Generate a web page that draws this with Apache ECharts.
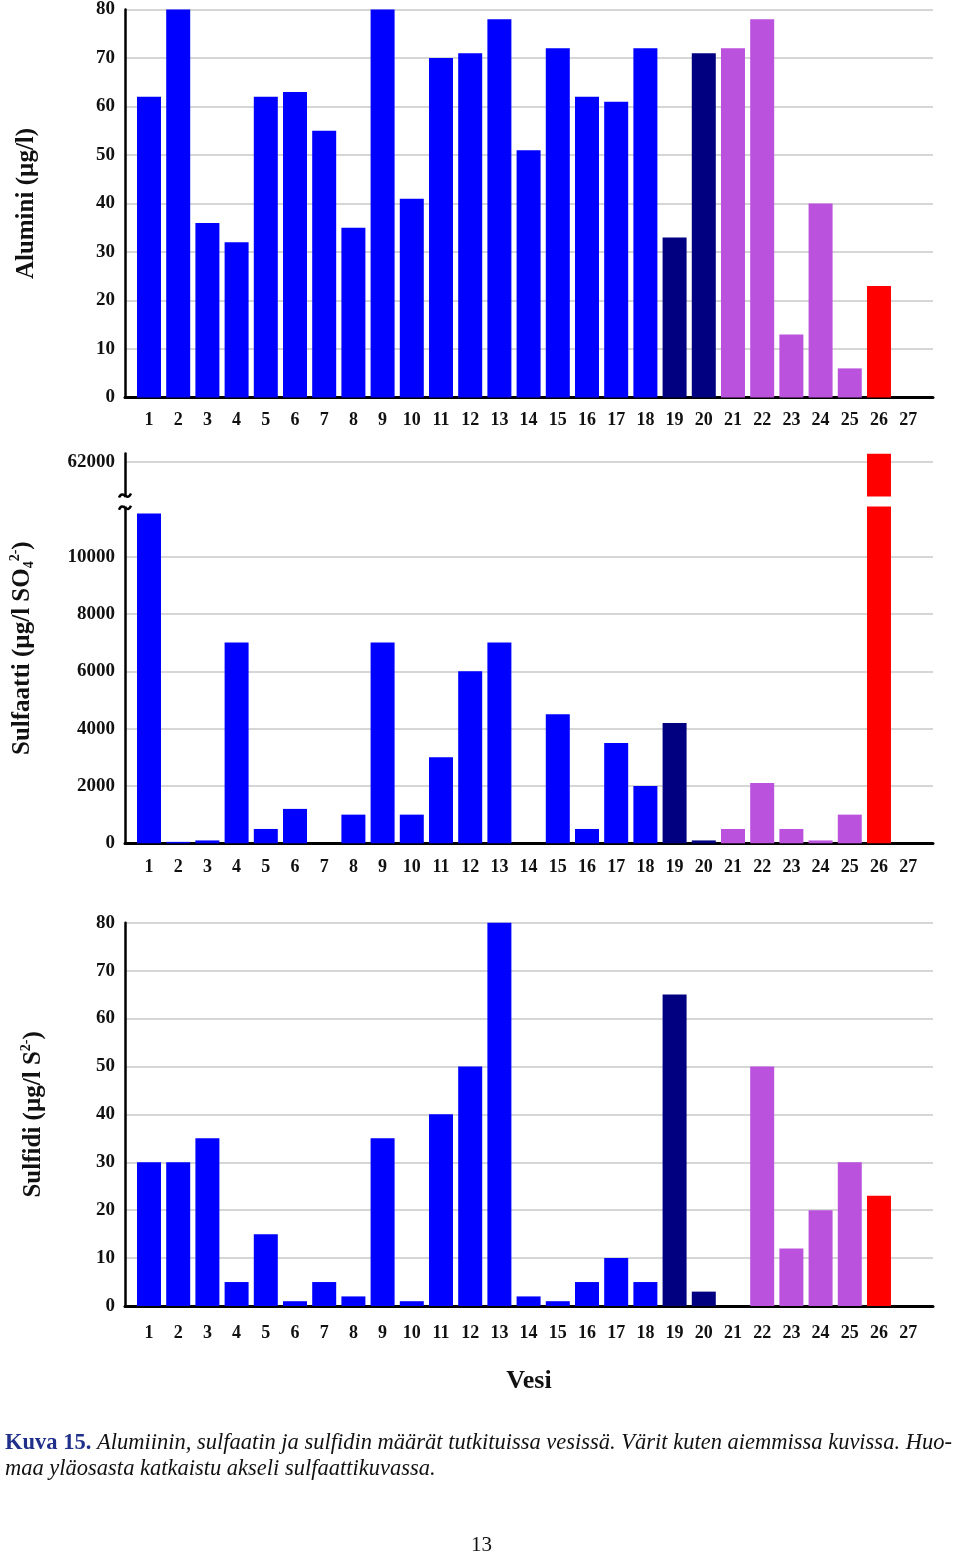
<!DOCTYPE html>
<html>
<head>
<meta charset="utf-8">
<script src="https://cdn.jsdelivr.net/npm/echarts@6/dist/echarts.min.js"></script>
<style>
html,body{margin:0;padding:0;background:#fff;}
#chart{width:960px;height:1555px;}
</style>
</head>
<body>
<div id="chart"></div>
<script>
// ---- data ----
const categories = [1,2,3,4,5,6,7,8,9,10,11,12,13,14,15,16,17,18,19,20,21,22,23,24,25,26,27];
const groups = ['b','b','b','b','b','b','b','b','b','b','b','b','b','b','b','b','b','b','n','n','p','p','p','p','p','r','b'];
const aluminium = [62,80,36,32,62,63,55,35,80,41,70,71,78,51,72,62,61,72,33,71,72,78,13,40,6,23,0];
const sulfate = [11500,50,100,7000,500,1200,0,1000,7000,1000,3000,6000,7000,0,4500,500,3500,2000,4200,100,500,2100,500,100,1000,62270,0];
const sulfide = [30,30,35,5,15,1,5,2,35,1,40,50,80,2,1,5,10,5,65,3,0,50,12,20,30,23,0];
const alTicks = [0,10,20,30,40,50,60,70,80];
const soTicks = [0,2000,4000,6000,8000,10000,62000];
const soBreak = [11740, 60780];
const sTicks = [0,10,20,30,40,50,60,70,80];

// ---- styling ----
const groupColor = { b: '#0000FF', n: '#000080', p: '#BB52DD', r: '#FF0000' };
const FONT = "'Liberation Serif','Times New Roman',serif";
const xMin = 0.178, xMax = 27.85;

function barData(vals) {
  return categories.map((c, i) => ({ value: [c, vals[i]], itemStyle: { color: groupColor[groups[i]] } }));
}
function xAxisCfg(gi, margin, extra) {
  return Object.assign({
    gridIndex: gi, type: 'value', min: xMin, max: xMax,
    axisLine: { show: true, onZero: false, lineStyle: { color: '#000', width: 3 } },
    axisTick: { show: false },
    splitLine: { show: false },
    axisLabel: { customValues: categories, margin: margin, color: '#111', fontFamily: FONT, fontWeight: 'bold', fontSize: 18,
      formatter: function (v) { return String(v); } }
  }, extra || {});
}
function yAxisCfg(gi, ticks, extra) {
  return Object.assign({
    gridIndex: gi, type: 'value', nameLocation: 'middle', nameRotate: 90,
    nameTextStyle: { fontFamily: FONT, fontWeight: 'bold', fontSize: 25, color: '#111' },
    axisLine: { show: true, lineStyle: { color: '#000', width: 2.5 } },
    axisTick: { show: false, customValues: ticks },
    splitLine: { show: true, customValues: ticks, lineStyle: { color: '#c8c8c8', width: 1.5 } },
    axisLabel: { customValues: ticks, margin: 10, color: '#111', fontFamily: FONT, fontWeight: 'bold', fontSize: 19,
      formatter: function (v) { return String(v); } }
  }, extra || {});
}
const tStyle = { fontFamily: FONT, fontWeight: 'bold', fontSize: 25, color: '#111' };
const supStyle = { fontFamily: FONT, fontWeight: 'bold', fontSize: 14, color: '#111', padding: [0, 0, 15, 0] };
const subStyle = { fontFamily: FONT, fontWeight: 'bold', fontSize: 14, color: '#111', padding: [13, 0, 0, 0] };

const chart = echarts.init(document.getElementById('chart'), null, { renderer: 'canvas' });
const option = {
  animation: false,
  backgroundColor: '#fff',
  grid: [
    { left: 125, right: 27, top: 9, height: 388.5 },
    { left: 125, right: 27, top: 453, height: 390.3 },
    { left: 125, right: 27, top: 922.7, height: 383.3 }
  ],
  xAxis: [
    xAxisCfg(0, 14),
    xAxisCfg(1, 15),
    xAxisCfg(2, 18, { name: 'Vesi', nameLocation: 'middle', nameGap: 62,
      nameTextStyle: { fontFamily: FONT, fontWeight: 'bold', fontSize: 26, color: '#111', verticalAlign: 'top' } })
  ],
  yAxis: [
    yAxisCfg(0, alTicks, { min: 0, max: 80, interval: 10, name: 'Alumini (µg/l)', nameGap: 86 }),
    yAxisCfg(1, soTicks, {
      min: 0, max: 62300, interval: 2000,
      name: '{t|Sulfaatti (µg/l SO}{sub|4}{sup|2-}{t|)}', nameGap: 88,
      nameTextStyle: Object.assign({}, tStyle, { rich: { t: tStyle, sub: subStyle, sup: supStyle } }),
      breaks: [{ start: soBreak[0], end: soBreak[1], gap: '2.6%' }],
      breakArea: { show: true, zigzagAmplitude: 0, itemStyle: { color: '#fff', borderColor: '#fff', borderWidth: 0, opacity: 1 } }
    }),
    yAxisCfg(2, sTicks, {
      min: 0, max: 80, interval: 10,
      name: '{t|Sulfidi (µg/l S}{sup|2-}{t|)}', nameGap: 77,
      nameTextStyle: Object.assign({}, tStyle, { rich: { t: tStyle, sup: supStyle } })
    })
  ],
  series: [
    { type: 'bar', xAxisIndex: 0, yAxisIndex: 0, barWidth: 24, data: barData(aluminium) },
    { type: 'bar', xAxisIndex: 1, yAxisIndex: 1, barWidth: 24, data: barData(sulfate) },
    { type: 'bar', xAxisIndex: 2, yAxisIndex: 2, barWidth: 24, data: barData(sulfide) }
  ],
  graphic: [
    { id: 'cap1', type: 'text', left: 5, top: 1432, style: { text: '{k|Kuva 15.} Alumiinin, sulfaatin ja sulfidin määrät tutkituissa vesissä. Värit kuten aiemmissa kuvissa. Huo-',
      font: 'italic 22.5px ' + FONT, fill: '#111',
      rich: { k: { fontFamily: FONT, fontWeight: 'bold', fontStyle: 'normal', fontSize: 22.5, fill: '#1f2f8a' } } } },
    { id: 'cap2', type: 'text', left: 5, top: 1458, style: { text: 'maa yläosasta katkaistu akseli sulfaattikuvassa.', font: 'italic 22.5px ' + FONT, fill: '#111' } },
    { id: 'page', type: 'text', left: 471, top: 1535, style: { text: '13', font: '21px ' + FONT, fill: '#111' } }
  ]
};
chart.setOption(option);

// break marks on the sulfate axis line
const axX = chart.convertToPixel({ xAxisIndex: 1 }, xMin);
const marks = soBreak.map((v, i) => {
  const y = chart.convertToPixel({ yAxisIndex: 1 }, v) + (i === 0 ? 1 : -1);
  return { id: 'brk' + i, type: 'bezierCurve', z: 100, zlevel: 1,
    shape: { x1: axX - 6, y1: y + 2, cpx1: axX - 2, cpy1: y - 7, cpx2: axX + 2, cpy2: y + 7, x2: axX + 6, y2: y - 2 },
    style: { stroke: '#000', lineWidth: 2.5, fill: null } };
});
chart.setOption({ graphic: marks });
</script>
</body>
</html>
